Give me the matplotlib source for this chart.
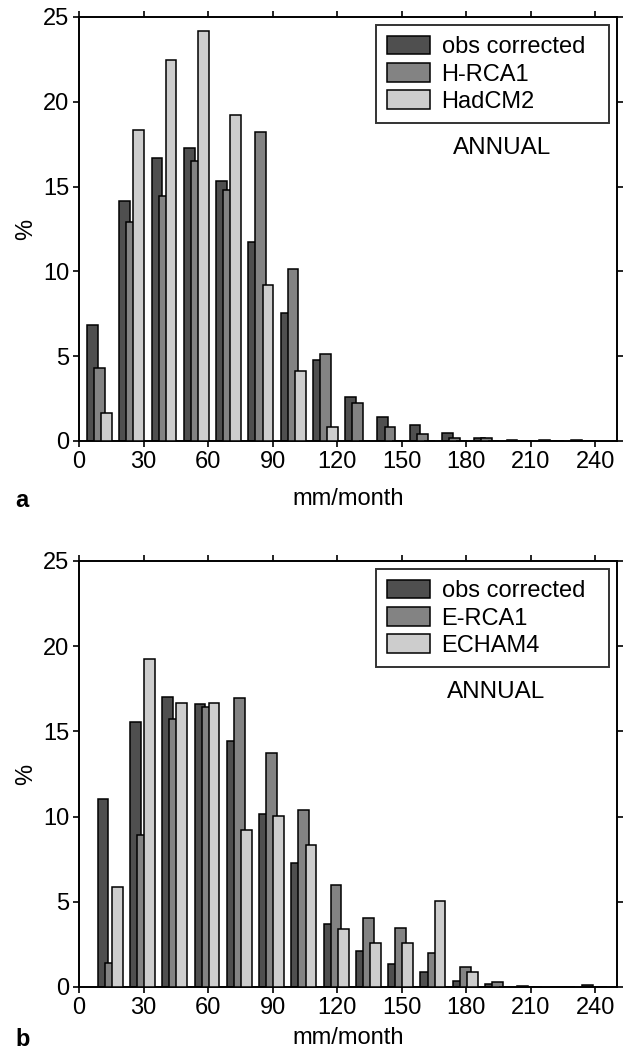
import numpy as np
import matplotlib
matplotlib.use('Agg')
import matplotlib.pyplot as plt

plt.rcParams['font.family'] = ['Liberation Sans', 'DejaVu Sans']

## data (% of months per 15 mm/month bin)
bins = np.arange(16) * 15.0

obs_a  = [6.83, 14.16, 16.71, 17.30, 15.32, 11.74, 7.56, 4.80, 2.61, 1.43, 0.94, 0.49, 0.15, 0.07, 0.07, 0.07]
hrca1  = [4.28, 12.90, 14.45, 16.48, 14.81, 18.24, 10.15, 5.10, 2.22, 0.84, 0.41, 0.20, 0.15, 0.0, 0.0, 0.0]
hadcm2 = [1.65, 18.32, 22.49, 24.18, 19.21, 9.17, 4.14, 0.84, 0.0, 0.0, 0.0, 0.0, 0.0, 0.0, 0.0, 0.0]

obs_b  = [11.05, 15.57, 17.04, 16.61, 14.42, 10.17, 7.26, 3.67, 2.13, 1.35, 0.90, 0.33, 0.20, 0.08, 0.0, 0.10]
erca1  = [1.41, 8.94, 15.71, 16.45, 16.96, 13.75, 10.39, 6.01, 4.05, 3.46, 2.00, 1.17, 0.31, 0.0, 0.0, 0.0]
echam4 = [5.87, 19.23, 16.67, 16.67, 9.21, 10.04, 8.35, 3.38, 2.58, 2.58, 5.07, 0.88, 0.0, 0.0, 0.0, 0.0]

cols = ['#4f4f4f', '#838383', '#cdcdcd']
W = 5.0
off = 3.3

fig = plt.figure(figsize=(6.24, 10.53), dpi=100)
ax_a = fig.add_axes([0.1266, 0.5812, 0.862, 0.4027])
ax_b = fig.add_axes([0.1266, 0.0627, 0.862, 0.4046])

def draw(ax, base, series, labels, tag, xpad, tag_y, ann_x):
    for k, (vals, lab) in enumerate(zip(series, labels)):
        ax.bar(bins + base + (k - 1) * off, vals, width=W, color=cols[k],
               edgecolor='black', linewidth=1.1, label=lab, zorder=2 + k)
    ax.set_xlim(0, 250)
    ax.set_ylim(0, 25)
    ax.set_xticks(np.arange(0, 241, 30))
    ax.set_yticks(np.arange(0, 26, 5))
    ax.tick_params(direction='out', length=4, width=1.2, labelsize=17,
                   top=True, right=True, pad=3)
    for s in ax.spines.values():
        s.set_linewidth(1.4)
    ax.set_xlabel('mm/month', fontsize=17, labelpad=xpad)
    ax.set_ylabel('%', fontsize=17, labelpad=4)
    leg = ax.legend(loc='upper right', bbox_to_anchor=(0.985, 0.981), fontsize=17,
                    frameon=True, fancybox=False, edgecolor='black',
                    handlelength=1.85, handleheight=0.85, labelspacing=0.2,
                    handletextpad=0.47, borderpad=0.45, borderaxespad=0.0)
    leg.get_frame().set_linewidth(1.4)
    ax.text(ann_x, 17.3, 'ANNUAL', fontsize=17.5, ha='center', va='center')
    ax.text(-0.118, tag_y, tag, transform=ax.transAxes, fontsize=17,
            fontweight='bold', ha='left', va='baseline')

draw(ax_a, 9.5, [obs_a, hrca1, hadcm2], ['obs corrected  ', 'H-RCA1', 'HadCM2'],
     'a', 11, -0.155, 196.8)
draw(ax_b, 14.5, [obs_b, erca1, echam4], ['obs corrected  ', 'E-RCA1', 'ECHAM4'],
     'b', 6, -0.138, 194.0)

fig.savefig('out.png', dpi=100)
